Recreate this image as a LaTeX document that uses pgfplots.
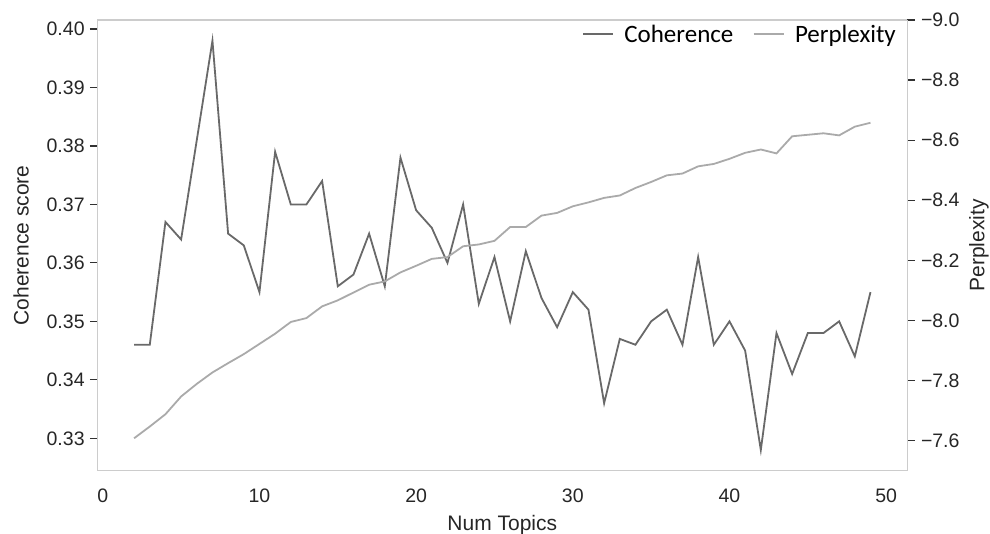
\documentclass[border=0pt]{standalone}
\usepackage{fontspec}
\setmainfont{Liberation Sans}
\newfontfamily\carlito{Carlito}
\usepackage{pgfplots}
\pgfplotsset{compat=1.18}
\definecolor{cohc}{RGB}{105,105,105}
\definecolor{perc}{RGB}{170,170,170}
\definecolor{framec}{RGB}{204,204,204}
\definecolor{tickc}{RGB}{50,50,50}
\begin{document}
\begin{tikzpicture}
\path[use as bounding box] (-97.3pt,-62.3pt) rectangle (892.7pt,470.7pt);
\pgfplotsset{
  common/.style={
    at={(0pt,0pt)}, anchor=south west,
    scale only axis, width=810pt, height=450.7pt,
    xmin=-0.35, xmax=51.35,
    /pgf/number format/assume math mode=true,
    tick align=outside,
    major tick length=7.5pt,
    tick style={tickc, line width=1.2pt},
    axis line style={framec, line width=1.5pt},
    ticklabel style={font=\fontsize{19.5}{23}\selectfont, text=black!85},
    label style={font=\fontsize{21}{25}\selectfont, text=black!85},
  }
}
\begin{axis}[common,
  ymin=0.32446, ymax=0.40154,
  ytick={0.33,0.34,0.35,0.36,0.37,0.38,0.39,0.40},
  yticklabels={0.33,0.34,0.35,0.36,0.37,0.38,0.39,0.40},
  ytick pos=left,
  xtick={0,10,20,30,40,50},
  xtick style={draw=none},
  xticklabel style={anchor=north, inner sep=0pt, yshift=-10pt},
  yticklabel style={anchor=east, inner xsep=5pt},
  xlabel={Num Topics},
  ylabel={Coherence score},
  xlabel style={at={(axis description cs:0.5,-0.12)}, anchor=center},
  ylabel style={at={(axis description cs:-0.094,0.5)}, anchor=center},
]
\addplot[cohc, line width=1.8pt] coordinates {
(2,0.346) (3,0.346) (4,0.367) (5,0.364) (6,0.381) (7,0.398) (8,0.365) (9,0.363)
(10,0.355) (11,0.379) (12,0.370) (13,0.370) (14,0.374) (15,0.356) (16,0.358)
(17,0.365) (18,0.356) (19,0.378) (20,0.369) (21,0.366) (22,0.360) (23,0.370)
(24,0.353) (25,0.361) (26,0.350) (27,0.362) (28,0.354) (29,0.349) (30,0.355)
(31,0.352) (32,0.336) (33,0.347) (34,0.346) (35,0.350) (36,0.352) (37,0.346)
(38,0.361) (39,0.346) (40,0.350) (41,0.345) (42,0.328) (43,0.348) (44,0.341)
(45,0.348) (46,0.348) (47,0.350) (48,0.344) (49,0.355)
};
\end{axis}
\begin{axis}[common,
  axis x line=none,
  axis y line*=right,
  y dir=reverse,
  ymin=-9.0, ymax=-7.5,
  ytick={-9.0,-8.8,-8.6,-8.4,-8.2,-8.0,-7.8,-7.6},
  yticklabels={−9.0,−8.8,−8.6,−8.4,−8.2,−8.0,−7.8,−7.6},
  yticklabel style={anchor=west, inner xsep=6pt},
  ylabel={Perplexity},
  ylabel style={at={(axis description cs:1.0885,0.5)}, anchor=center, rotate=0},
  legend style={at={(axis description cs:0.986,0.99)}, anchor=north east,
    draw=none, fill=none, inner sep=0pt,
    font=\carlito\fontsize{25}{29}\selectfont,
    nodes={inner sep=0pt, text=black}},
  legend columns=2,
  legend cell align=left,
  /tikz/every odd column/.style={column sep=10pt},
  /tikz/every even column/.style={column sep=19pt},
  legend image code/.code={\draw[#1, line width=2.6pt] (0pt,0pt) -- (30pt,0pt);},
]
\addlegendimage{cohc}
\addlegendentry{Coherence}
\addplot[perc, line width=1.8pt] coordinates {
(2,-7.608) (3,-7.647) (4,-7.688) (5,-7.747) (6,-7.789) (7,-7.827) (8,-7.858)
(9,-7.888) (10,-7.922) (11,-7.956) (12,-7.995) (13,-8.008) (14,-8.047)
(15,-8.067) (16,-8.093) (17,-8.119) (18,-8.130) (19,-8.160) (20,-8.182)
(21,-8.205) (22,-8.211) (23,-8.247) (24,-8.253) (25,-8.265) (26,-8.311)
(27,-8.311) (28,-8.349) (29,-8.358) (30,-8.380) (31,-8.393) (32,-8.408)
(33,-8.416) (34,-8.441) (35,-8.461) (36,-8.483) (37,-8.489) (38,-8.513)
(39,-8.521) (40,-8.538) (41,-8.558) (42,-8.569) (43,-8.556) (44,-8.613)
(45,-8.618) (46,-8.623) (47,-8.616) (48,-8.645) (49,-8.658)
};
\addlegendentry{Perplexity}
\end{axis}
\end{tikzpicture}
\end{document}
